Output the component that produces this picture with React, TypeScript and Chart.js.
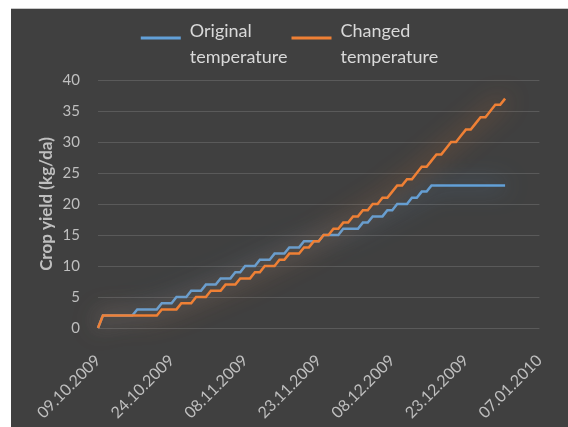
import React, { useEffect, useRef } from "react";
import { Chart, registerables } from "chart.js";

Chart.register(...registerables);

// Axis tick labels, one every 15 days starting at 09.10.2009
const tickLabels = [
  "09.10.2009",
  "24.10.2009",
  "08.11.2009",
  "23.11.2009",
  "08.12.2009",
  "23.12.2009",
  "07.01.2010",
];

const seriesNames = [
  ["Original", "temperature"],
  ["Changed", "temperature"],
];

// Daily crop yield (kg/da) from 09.10.2009 onwards
const originalTemp = [
  0,
  2, 2, 2, 2, 2, 2, 2,
  3, 3, 3, 3, 3,
  4, 4, 4, 5, 5, 5, 6, 6, 6, 7, 7, 7, 8, 8, 8,
  9, 9,
  10, 10, 10, 11, 11, 11, 12, 12, 12, 13, 13, 13,
  14, 14, 14, 14, 15, 15, 15, 15, 16, 16, 16, 16,
  17, 17, 18, 18, 18, 19, 19, 20, 20, 20, 21, 21, 22, 22,
  23, 23, 23, 23, 23, 23, 23, 23, 23, 23, 23, 23, 23, 23, 23, 23,
];

const changedTemp = [
  0,
  2, 2, 2, 2, 2, 2, 2, 2, 2, 2, 2, 2,
  3, 3, 3, 3,
  4, 4, 4, 5, 5, 5, 6, 6, 6, 7, 7, 7, 8, 8, 8,
  9, 9, 10, 10, 10, 11, 11, 12, 12, 12, 13, 13,
  14, 14, 15, 15, 16, 16, 17, 17, 18, 18, 19, 19,
  20, 20, 21, 21, 22, 23, 23, 24, 24, 25, 26, 26,
  27, 28, 28, 29, 30, 30, 31, 32, 32, 33, 34, 34, 35, 36, 36, 37,
];

const BLUE = "#62a0d8";
const ORANGE = "#ef8035";
const GLOWS = ["rgba(91,155,213,0.85)", "rgba(237,125,49,0.85)"];
const FONT = "Lato, 'Open Sans', sans-serif";

// soft coloured halo around each line
const glowPlugin = {
  id: "lineGlow",
  beforeDatasetDraw(chart: any, args: any) {
    const ctx = chart.ctx;
    ctx.save();
    ctx.shadowColor = GLOWS[args.index];
    ctx.shadowBlur = 24;
  },
  afterDatasetDraw(chart: any) {
    chart.ctx.restore();
  },
};

const decorPlugin = {
  id: "decor",
  afterDraw(chart: any) {
    const ctx = chart.ctx;
    const area = chart.chartArea;
    ctx.save();

    // y-axis title
    ctx.fillStyle = "#bfbfbf";
    ctx.font = `bold 17px ${FONT}`;
    ctx.textAlign = "center";
    ctx.textBaseline = "middle";
    ctx.translate(36, (area.top + area.bottom) / 2);
    ctx.rotate(-Math.PI / 2);
    ctx.fillText("Crop yield (kg/da)", 0, 0);
    ctx.setTransform(1, 0, 0, 1, 0, 0);

    // legend with two-line labels
    ctx.font = `18px ${FONT}`;
    ctx.textAlign = "left";
    const sample = 40;
    const gap = 9;
    const itemGap = 4;
    const widths = seriesNames.map((lines) =>
      Math.max(...lines.map((l) => ctx.measureText(l).width))
    );
    const total =
      widths.reduce((a, w) => a + sample + gap + w, 0) + itemGap * (widths.length - 1);
    let x = chart.width / 2 - total / 2;
    const lineY = 29;
    chart.data.datasets.forEach((ds: any, i: number) => {
      ctx.strokeStyle = ds.borderColor;
      ctx.lineWidth = 3;
      ctx.beginPath();
      ctx.moveTo(x, lineY);
      ctx.lineTo(x + sample, lineY);
      ctx.stroke();
      ctx.fillStyle = "#d9d9d9";
      seriesNames[i].forEach((l, k) => {
        ctx.fillText(l, x + sample + gap, 22 + k * 26);
      });
      x += sample + gap + widths[i] + itemGap;
    });
    ctx.restore();
  },
};

export default function App() {
  const ref = useRef<HTMLCanvasElement>(null);

  useEffect(() => {
    if (!ref.current) return;
    const chart = new Chart(ref.current, {
      type: "line",
      data: {
        datasets: [
          {
            label: "Original temperature",
            data: originalTemp.map((v, i) => ({ x: i, y: v })),
            borderColor: BLUE,
            backgroundColor: BLUE,
            borderWidth: 2.5,
            pointRadius: 0,
            tension: 0,
            clip: false as any,
            order: 2,
          },
          {
            label: "Changed temperature",
            data: changedTemp.map((v, i) => ({ x: i, y: v })),
            borderColor: ORANGE,
            backgroundColor: ORANGE,
            borderWidth: 2.5,
            pointRadius: 0,
            tension: 0,
            clip: false as any,
            order: 1,
          },
        ],
      },
      options: {
        responsive: false,
        animation: false,
        layout: { padding: { left: 0, right: 26, top: 71, bottom: 0 } },
        plugins: {
          legend: { display: false },
          tooltip: { enabled: false },
        },
        scales: {
          x: {
            type: "linear",
            min: 0,
            max: 90,
            grid: { display: false },
            border: { display: false },
            ticks: {
              stepSize: 15,
              minRotation: 45,
              maxRotation: 45,
              color: "#bfbfbf",
              padding: 15,
              font: { family: FONT, size: 16 },
              callback: (v: any) => tickLabels[Math.round(Number(v) / 15)] ?? "",
            },
            afterFit: (s: any) => {
              s.height = 99;
            },
          },
          y: {
            min: 0,
            max: 40,
            grid: { color: "#5a5a5a", lineWidth: 1, drawTicks: false },
            border: { display: false },
            ticks: {
              stepSize: 5,
              color: "#bfbfbf",
              padding: 18,
              font: { family: FONT, size: 15 },
            },
            afterFit: (s: any) => {
              s.width = 87;
            },
          },
        },
      },
      plugins: [glowPlugin, decorPlugin],
    });
    return () => chart.destroy();
  }, []);

  return (
    <div
      style={{
        position: "fixed",
        left: 0,
        top: 0,
        width: 568,
        height: 427,
        background: "#ffffff",
      }}
    >
      <div
        style={{
          position: "absolute",
          left: 11,
          top: 8,
          width: 557,
          height: 419,
          boxSizing: "border-box",
          borderTop: "1px solid #c8c8c8",
          background: "#404040",
        }}
      >
        <canvas ref={ref} width={557} height={418} style={{ display: "block" }} />
      </div>
    </div>
  );
}
